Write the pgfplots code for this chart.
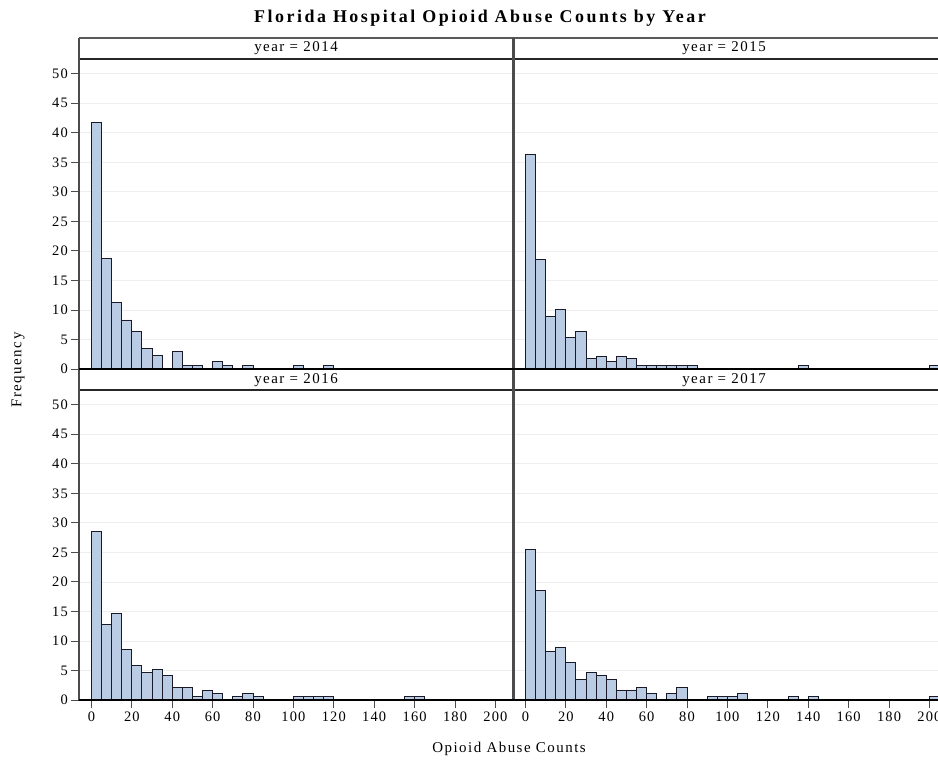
\documentclass[border=0pt]{standalone}
\usepackage{fontspec}
\setmainfont{Liberation Serif}
\newfontfamily\sasfont{Liberation Serif}[LetterSpace=8]
\usepackage{pgfplots}
\usepackage{pgfplotstable}
\pgfplotsset{compat=1.18}
\definecolor{barfill}{RGB}{185,204,228}
\definecolor{baredge}{RGB}{25,25,40}
\definecolor{gridc}{RGB}{238,238,238}

% percent of hospitals per 5-count bin (bin centres)
\pgfplotstableread{
x y
2.5 41.8
7.5 18.7
12.5 11.2
17.5 8.3
22.5 6.4
27.5 3.5
32.5 2.3
42.5 2.9
47.5 0.6
52.5 0.6
62.5 1.2
67.5 0.6
77.5 0.6
102.5 0.6
117.5 0.6
}\tA
\pgfplotstableread{
x y
2.5 36.3
7.5 18.5
12.5 8.9
17.5 10.1
22.5 5.4
27.5 6.4
32.5 1.8
37.5 2.2
42.5 1.2
47.5 2.2
52.5 1.8
57.5 0.6
62.5 0.6
67.5 0.6
72.5 0.6
77.5 0.6
82.5 0.6
137.5 0.6
202.5 0.6
}\tB
\pgfplotstableread{
x y
2.5 28.6
7.5 12.8
12.5 14.7
17.5 8.6
22.5 5.8
27.5 4.7
32.5 5.1
37.5 4.2
42.5 2.2
47.5 2.2
52.5 0.6
57.5 1.6
62.5 1.1
72.5 0.6
77.5 1.1
82.5 0.6
102.5 0.6
107.5 0.6
112.5 0.6
117.5 0.6
157.5 0.6
162.5 0.6
}\tC
\pgfplotstableread{
x y
2.5 25.5
7.5 18.5
12.5 8.2
17.5 8.9
22.5 6.3
27.5 3.5
32.5 4.7
37.5 4.1
42.5 3.5
47.5 1.7
52.5 1.7
57.5 2.2
62.5 1.1
72.5 1.1
77.5 2.2
92.5 0.6
97.5 0.6
102.5 0.6
107.5 1.1
132.5 0.6
142.5 0.6
202.5 0.6
}\tD

\pgfplotsset{
  panel/.style={
    scale only axis, width=434.3bp, height=310bp,
    xmin=-6, xmax=209, ymin=0, ymax=52.5,
    anchor=south west,
    ybar, bar width=5, bar shift=0pt,
    axis line style={draw=black!85, line width=2.2bp},
    ytick={0,5,...,50}, ymajorgrids,
    major grid style={draw=gridc, line width=0.8bp},
    xtick={0,20,...,200},
    tick align=outside, major tick length=8bp,
    tick style={draw=black!70, line width=0.9bp},
    xtick pos=bottom, ytick pos=left,
    tick label style={font=\sasfont\fontsize{14.5}{16}\selectfont},
    /pgf/number format/assume math mode=true,
    clip=false,
  },
  top/.style={xticklabels={}, xtick style={draw=none}},
  right/.style={yticklabels={}, ytick style={draw=none}},
  bars/.style={fill=barfill, draw=baredge, line width=0.9bp},
}

\begin{document}
\begin{tikzpicture}[x=1bp,y=1bp]
\useasboundingbox (0,0) rectangle (938,-763);
\clip (0,0) rectangle (938,-763);

\begin{axis}[panel, top, at={(79.3bp,-369bp)}]
\addplot[bars] table {\tA};
\end{axis}
\begin{axis}[panel, top, right, at={(513.3bp,-369bp)}]
\addplot[bars] table {\tB};
\end{axis}
\begin{axis}[panel, at={(79.3bp,-700bp)}]
\addplot[bars] table {\tC};
\end{axis}
\begin{axis}[panel, right, at={(513.3bp,-700bp)}]
\addplot[bars] table {\tD};
\end{axis}

% header strips and panel borders
\draw[draw=black!65, line width=2bp] (79.3,-38) -- (938,-38);
\draw[draw=black!70, line width=2.2bp] (79.3,-38) -- (79.3,-700);
\draw[draw=black!70, line width=3bp] (513.3,-38) -- (513.3,-700);
\draw[draw=black, line width=2.4bp] (79.3,-700) -- (938,-700);
\draw[draw=black, line width=2.4bp] (79.3,-369) -- (938,-369);
\begin{scope}[font=\sasfont\addfontfeature{LetterSpace=10}\fontsize{15}{17}\selectfont]
\node at (296,-48.5) {year = 2014};
\node at (724,-48.5) {year = 2015};
\node at (296,-380) {year = 2016};
\node at (724,-380) {year = 2017};
\node[rotate=90] at (18,-370) {Frequency};
\node at (509,-749) {Opioid Abuse Counts};
\end{scope}
\node[font=\sasfont\addfontfeature{LetterSpace=14}\bfseries\fontsize{18}{21}\selectfont] at (480,-18) {Florida Hospital Opioid Abuse Counts by Year};
\end{tikzpicture}
\end{document}
